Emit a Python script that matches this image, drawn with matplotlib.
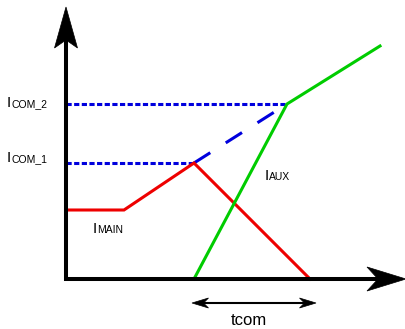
import numpy as np
import matplotlib
matplotlib.use("Agg")
import matplotlib.pyplot as plt
from matplotlib.patches import Polygon

plt.rcParams["font.family"] = ["Liberation Sans", "DejaVu Sans"]

# drawing units: t along the time axis, i along the current axis, origin at the axis corner
t_main = [0, 58, 128, 244]
i_main = [69, 69, 116, 0]
t_aux = [128, 221, 314]
i_aux = [0, 175, 233]
i_com1 = 116
i_com2 = 175
t_com1 = 128
t_com2 = 221
t_span = [126, 250]   # tcom arrow ends
t_max = 340
i_max = 272

RED = "#ee0000"
GREEN = "#00cc00"
BLUE = "#0000dd"


def arrow_head(ax, tip, d, length, half, notch, color="black"):
    # notched (stealth) arrow head as a polygon
    d = np.asarray(d, float)
    d = d / np.linalg.norm(d)
    n = np.array([-d[1], d[0]])
    tip = np.asarray(tip, float)
    base = tip - d * length
    pts = [tip, base + n * half, tip - d * (length - notch), base - n * half]
    ax.add_patch(Polygon(pts, closed=True, fc=color, ec=color, lw=0.5, zorder=6))


def label(ax, x, y, sub, big=11, small=7.5, gap=3.3):
    ax.text(x, y, "I", fontsize=big, va="baseline", ha="left")
    ax.annotate(sub, (x, y), xytext=(gap, 0), textcoords="offset points",
                fontsize=small, va="baseline", ha="left")


fig = plt.figure(figsize=(4.06, 3.29), dpi=100)
ax = fig.add_axes([0, 0, 1, 1])
ax.set_xlim(-66, 340)
ax.set_ylim(-50, 279)
ax.axis("off")

# axes
ax.plot([0, 0, 312], [239, 0, 0], color="black", lw=2.9,
        solid_joinstyle="miter", solid_capstyle="butt", zorder=5)
arrow_head(ax, (0, i_max), (0, 1), 41, 11.5, 8)
arrow_head(ax, (t_max, 0), (1, 0), 39, 12, 11)

# reference levels
ax.plot([0, t_com2], [i_com2, i_com2], color=BLUE, lw=2.2,
        dashes=(1.7, 0.8), dash_capstyle="butt", zorder=3)
ax.plot([0, t_com1], [i_com1, i_com1], color=BLUE, lw=2.2,
        dashes=(1.7, 0.8), dash_capstyle="butt", zorder=3)
ax.plot([t_com1, t_com2], [i_com1, i_com2], color=BLUE, lw=2.2,
        dashes=(6.3, 6.0), dash_capstyle="butt", zorder=3)

# currents
ax.plot(t_main, i_main, color=RED, lw=2.2, solid_joinstyle="miter", zorder=4)
ax.plot(t_aux, i_aux, color=GREEN, lw=2.2, solid_joinstyle="miter", zorder=4)

# tcom span
y_arr = -24
ax.plot([t_span[0] + 10, t_span[1] - 10], [y_arr, y_arr], color="black", lw=1.5)
arrow_head(ax, (t_span[0], y_arr), (-1, 0), 16.5, 5, 5)
arrow_head(ax, (t_span[1], y_arr), (1, 0), 16.5, 5, 5)
ax.text(183, -46, "tcom", fontsize=12, ha="center", va="baseline")

# labels
label(ax, -59, 172, "COM_2")
label(ax, -59, 117, "COM_1")
label(ax, 198.5, 98.5, "AUX")
label(ax, 27, 46, "MAIN")

fig.savefig("out.png", dpi=100)
